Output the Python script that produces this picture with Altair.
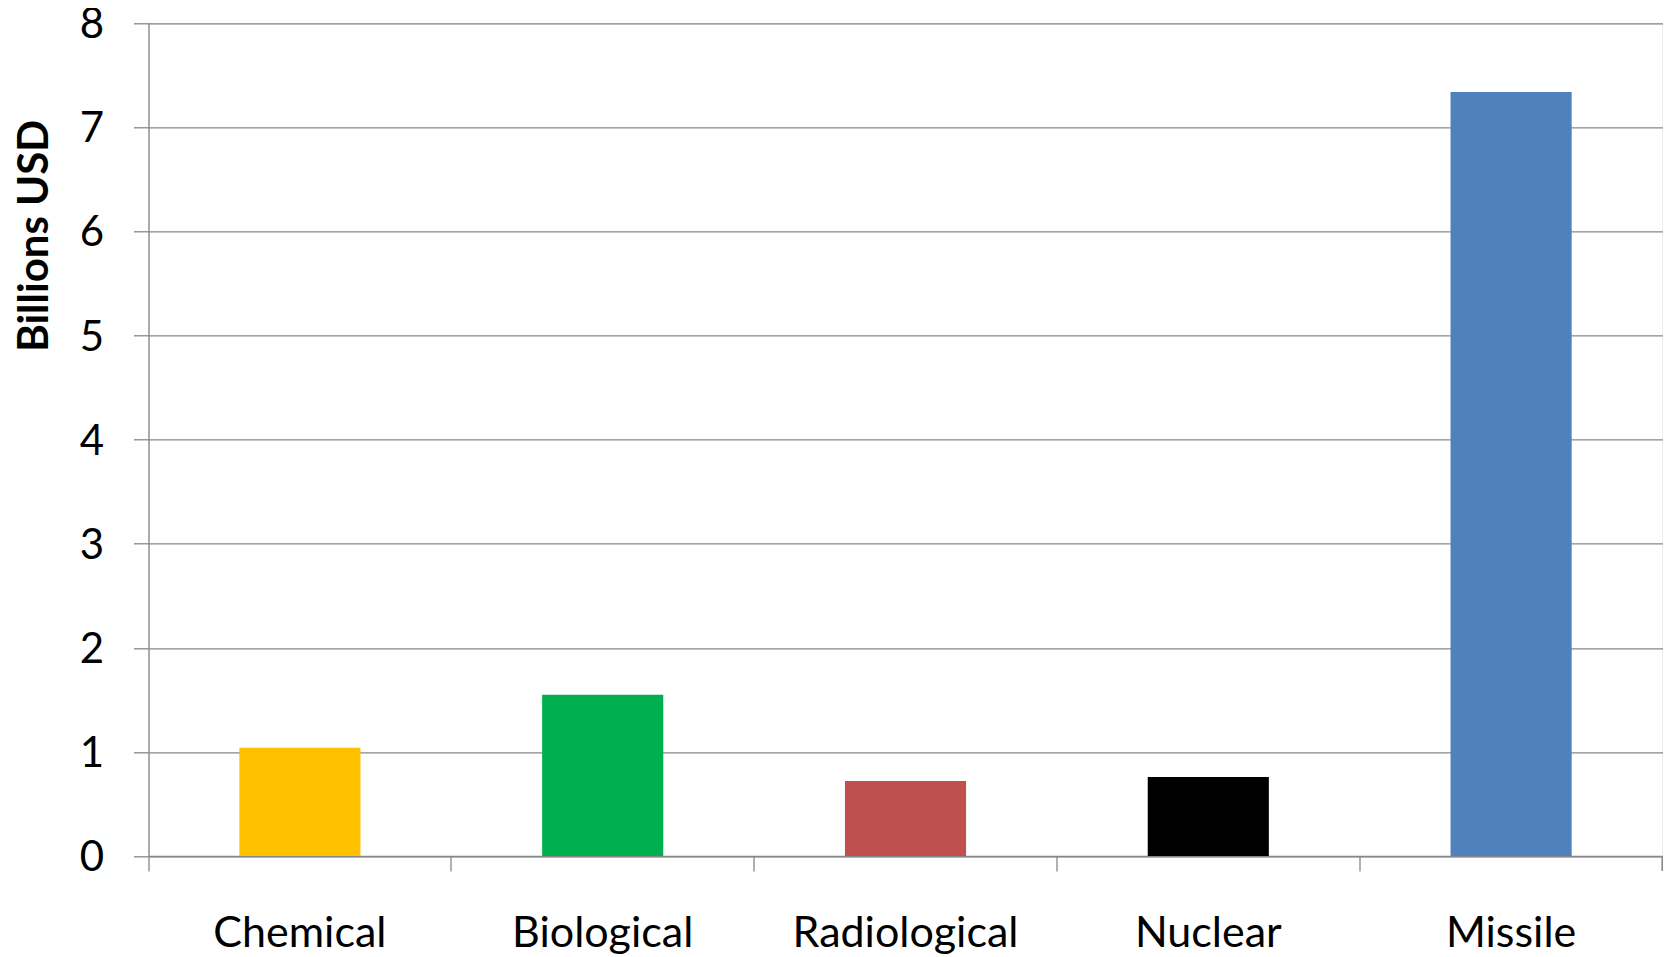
import altair as alt
import pandas as pd

categories = ["Chemical", "Biological", "Radiological", "Nuclear", "Missile"]
values = [1.04, 1.55, 0.72, 0.76, 7.34]
colors = ["#FFC000", "#00B050", "#C0504D", "#000000", "#4F81BD"]
y_ticks = [0, 1, 2, 3, 4, 5, 6, 7, 8]

df = pd.DataFrame({"category": categories, "value": values})

W = 1514
H = 832.7
FONT = "Lato"
GRID = "#878787"

bars = alt.Chart(df).mark_bar(width=alt.RelativeBandSize(0.4)).encode(
    x=alt.X(
        "category:N",
        sort=categories,
        scale=alt.Scale(paddingInner=0, paddingOuter=0),
        axis=alt.Axis(
            title=None,
            labelAngle=0,
            bandPosition=0,
            tickSize=15,
            tickColor=GRID,
            tickWidth=1.3,
            domainColor=GRID,
            domainWidth=1.3,
            labelFont=FONT,
            labelFontSize=43,
            labelColor="#000000",
            labelBaseline="alphabetic",
            labelPadding=75.7,
            labelLimit=0,
            grid=False,
        ),
    ),
    y=alt.Y(
        "value:Q",
        scale=alt.Scale(domain=[0, 8], nice=False),
        axis=alt.Axis(
            title="Billions USD",
            values=y_ticks,
            tickSize=15,
            tickColor=GRID,
            tickWidth=1.3,
            domainColor=GRID,
            domainWidth=1.3,
            gridColor=GRID,
            gridWidth=1.3,
            labelFont=FONT,
            labelFontSize=42,
            labelColor="#000000",
            labelPadding=30,
            labelOffset=1.5,
            titleFont=FONT,
            titleFontSize=42,
            titleFontWeight="bold",
            titleColor="#000000",
            titleAngle=270,
            titleAlign="center",
            titleBaseline="alphabetic",
            titleX=-101.5,
            titleY=212,
            titleLimit=0,
        ),
    ),
    color=alt.Color(
        "category:N",
        scale=alt.Scale(domain=categories, range=colors),
        legend=None,
    ),
)

end_tick = alt.Chart(df).mark_rule(color=GRID, strokeWidth=1.3).encode(
    x=alt.value(W), y=alt.value(H), y2=alt.value(H + 15)
)

chart = (
    alt.layer(bars, end_tick)
    .properties(
        width=W,
        height=H,
        autosize=alt.AutoSizeParams(type="none"),
        padding={"left": 140.5, "top": 15.3, "right": 0, "bottom": 101},
    )
    .configure_view(stroke=None)
    .configure(background="#ffffff")
)

chart.save("out.html", embed_options={"renderer": "svg", "actions": False})
